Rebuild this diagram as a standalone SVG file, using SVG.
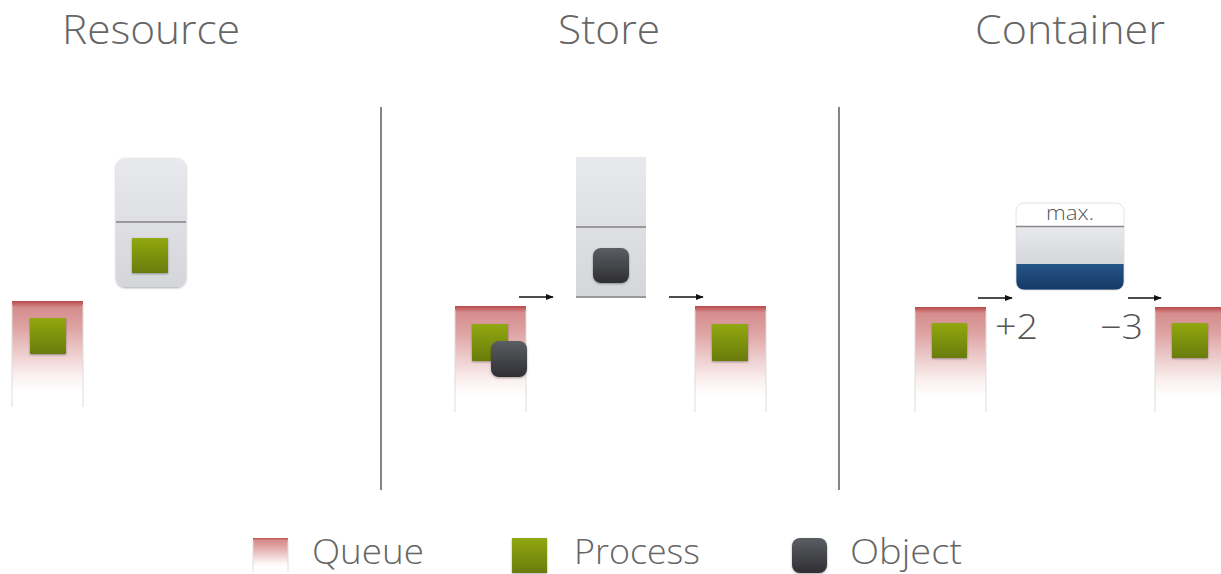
<svg xmlns="http://www.w3.org/2000/svg" width="1221" height="574" viewBox="0 0 1221 574">
<defs>
<linearGradient id="gq" x1="0" y1="0" x2="0" y2="1">
<stop offset="0" stop-color="#b84a4a"/>
<stop offset="0.06" stop-color="#d58c8c"/>
<stop offset="0.25" stop-color="#dea3a3"/>
<stop offset="0.7" stop-color="#fbf0f0"/>
<stop offset="0.85" stop-color="#ffffff"/>
</linearGradient>
<linearGradient id="gp" x1="0" y1="0" x2="0" y2="1">
<stop offset="0" stop-color="#91a812"/>
<stop offset="1" stop-color="#697c0b"/>
</linearGradient>
<linearGradient id="go" x1="0" y1="0" x2="0" y2="1">
<stop offset="0" stop-color="#5b5e63"/>
<stop offset="1" stop-color="#2e2f33"/>
</linearGradient>
<linearGradient id="gb" x1="0" y1="0" x2="0" y2="1">
<stop offset="0" stop-color="#e8e9ec"/>
<stop offset="1" stop-color="#d5d6d9"/>
</linearGradient>
<linearGradient id="gblue" x1="0" y1="0" x2="0" y2="1">
<stop offset="0" stop-color="#255488"/>
<stop offset="1" stop-color="#163a66"/>
</linearGradient>
<filter id="sh" x="-20%" y="-20%" width="140%" height="140%">
<feDropShadow dx="0" dy="1" stdDeviation="1" flood-color="#000" flood-opacity="0.35"/>
</filter>
<marker id="ar" viewBox="0 0 10 10" refX="9" refY="5" markerWidth="8" markerHeight="8" markerUnits="userSpaceOnUse" orient="auto">
<path d="M0,1 L10,5 L0,9 Z" fill="#111"/>
</marker>
<clipPath id="cc"><rect x="1016" y="203" width="108" height="87" rx="8"/></clipPath>
</defs>
<style>
.title{font-family:"Open Sans","DejaVu Sans",sans-serif;font-weight:300;font-size:40px;fill:#666;text-anchor:middle}
.leg{font-family:"Open Sans","DejaVu Sans",sans-serif;font-weight:300;font-size:35px;fill:#666}
.num{font-family:"Open Sans","DejaVu Sans",sans-serif;font-weight:300;font-size:34px;fill:#555}
.q{fill:url(#gq)}
.qs{stroke:#ddd;stroke-width:1}
.p{fill:url(#gp);filter:url(#sh)}
.o{fill:url(#go);filter:url(#sh)}
.box{fill:url(#gb)}
.div{stroke:#9a9a9c;stroke-width:2}
.sep{stroke:#333;stroke-width:1.2}
.arrow{stroke:#111;stroke-width:1.5;fill:none;marker-end:url(#ar)}
</style>
<rect width="1221" height="574" fill="#fff"/>

<text class="title" x="151" y="44" textLength="178" lengthAdjust="spacingAndGlyphs">Resource</text>
<text class="title" x="609" y="44" textLength="102" lengthAdjust="spacingAndGlyphs">Store</text>
<text class="title" x="1070" y="44" textLength="190" lengthAdjust="spacingAndGlyphs">Container</text>

<line class="sep" x1="381" y1="107" x2="381" y2="490"/>
<line class="sep" x1="839" y1="107" x2="839" y2="490"/>

<!-- Resource -->
<g id="resource">
<rect class="box" x="116" y="158" width="70" height="129" rx="9" filter="url(#sh)"/>
<line class="div" x1="116" y1="222" x2="186" y2="222"/>
<rect class="p" x="132" y="238" width="36" height="35"/>
</g>
<g id="resource-queue">
<rect class="q" x="12" y="301" width="71" height="106"/>
<line class="qs" x1="12" y1="305" x2="12" y2="407"/>
<line class="qs" x1="83" y1="305" x2="83" y2="407"/>
<rect class="p" x="30" y="318" width="36" height="36"/>
</g>

<!-- Store -->
<g id="store">
<rect class="box" x="576" y="157" width="70" height="141"/>
<line class="div" x1="576" y1="227" x2="646" y2="227"/>
<line class="div" x1="576" y1="297" x2="646" y2="297"/>
<rect class="o" x="593" y="248" width="36" height="35" rx="8"/>
</g>
<g id="store-queue-in">
<rect class="q" x="455" y="306" width="71" height="106"/>
<line class="qs" x1="455" y1="310" x2="455" y2="412"/>
<line class="qs" x1="526" y1="310" x2="526" y2="412"/>
<rect class="p" x="472" y="324" width="36" height="37"/>
<rect class="o" x="491" y="341" width="36" height="36" rx="8"/>
</g>
<g id="store-queue-out">
<rect class="q" x="695" y="306" width="71" height="106"/>
<line class="qs" x1="695" y1="310" x2="695" y2="412"/>
<line class="qs" x1="766" y1="310" x2="766" y2="412"/>
<rect class="p" x="712" y="324" width="36" height="37"/>
</g>

<!-- Container -->
<g id="container">
<g clip-path="url(#cc)" filter="url(#sh)">
<rect x="1016" y="203" width="108" height="87" fill="#fff"/>
<rect x="1016" y="227" width="108" height="37" fill="url(#gb)"/>
<rect x="1016" y="264" width="108" height="26" fill="url(#gblue)"/>
</g>
<rect x="1016" y="203" width="108" height="87" rx="8" fill="none" stroke="#ddd" stroke-width="0.8"/>
<line x1="1016" y1="226.5" x2="1124" y2="226.5" stroke="#8a8a8c" stroke-width="1.5"/>
<text x="1070" y="220" font-family="Open Sans, DejaVu Sans, sans-serif" font-weight="300" font-size="20" fill="#555" text-anchor="middle" textLength="48" lengthAdjust="spacingAndGlyphs">max.</text>
</g>
<g id="container-queue-in">
<rect class="q" x="915" y="307" width="71" height="105"/>
<line class="qs" x1="915" y1="311" x2="915" y2="412"/>
<line class="qs" x1="986" y1="311" x2="986" y2="412"/>
<rect class="p" x="932" y="323" width="35" height="35"/>
</g>
<g id="container-queue-out">
<rect class="q" x="1155" y="307" width="71" height="105"/>
<line class="qs" x1="1155" y1="311" x2="1155" y2="412"/>
<rect class="p" x="1172" y="323" width="36" height="35"/>
</g>
<text class="num" x="995" y="339" textLength="43" lengthAdjust="spacingAndGlyphs">+2</text>
<text class="num" x="1100" y="339" textLength="43" lengthAdjust="spacingAndGlyphs">−3</text>

<g id="connectors">
<line class="arrow" x1="519" y1="297" x2="553" y2="297"/>
<line class="arrow" x1="669" y1="297" x2="703" y2="297"/>
<line class="arrow" x1="978" y1="298" x2="1012" y2="298"/>
<line class="arrow" x1="1128" y1="298" x2="1161" y2="298"/>
</g>

<!-- Legend -->
<g id="legend-queue">
<rect class="q" x="253" y="538" width="35" height="34"/>
<line class="qs" x1="253" y1="541" x2="253" y2="572"/>
<line class="qs" x1="288" y1="541" x2="288" y2="572"/>
<text class="leg" x="312" y="564" textLength="112" lengthAdjust="spacingAndGlyphs">Queue</text>
</g>
<g id="legend-process">
<rect class="p" x="512" y="538" width="35" height="35"/>
<text class="leg" x="574" y="564" textLength="126" lengthAdjust="spacingAndGlyphs">Process</text>
</g>
<g id="legend-object">
<rect class="o" x="792" y="538" width="35" height="35" rx="8"/>
<text class="leg" x="850" y="564" textLength="112" lengthAdjust="spacingAndGlyphs">Object</text>
</g>
</svg>
